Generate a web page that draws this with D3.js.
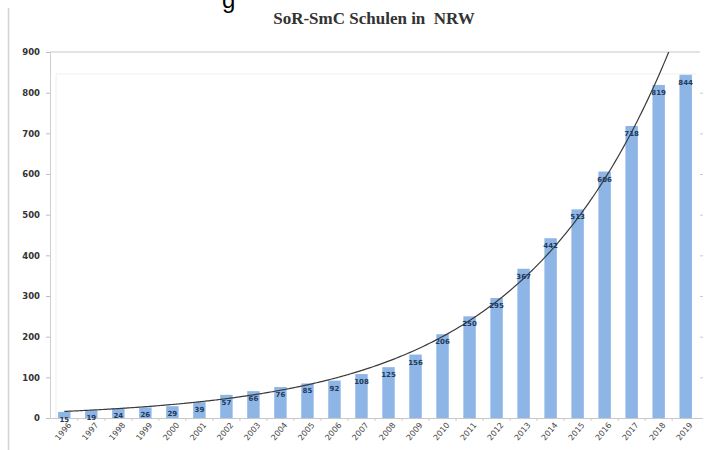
<!DOCTYPE html>
<html>
<head>
<meta charset="utf-8">
<script src="https://cdn.jsdelivr.net/npm/d3@7"></script>
<style>
  body { margin: 0; background: #fff; }
  svg { display: block; }
</style>
</head>
<body>
<svg id="chart" width="709" height="450"></svg>
<script>
// values
const years = ["1996","1997","1998","1999","2000","2001","2002","2003","2004","2005","2006","2007",
               "2008","2009","2010","2011","2012","2013","2014","2015","2016","2017","2018","2019"];
const schools = [15, 19, 24, 26, 29, 39, 57, 66, 76, 85, 92, 108,
                 125, 156, 206, 250, 295, 367, 442, 513, 606, 718, 819, 844];
const yTicks = [0, 100, 200, 300, 400, 500, 600, 700, 800, 900];
const title = "SoR-SmC Schulen in  NRW";

const data = years.map((y, i) => ({ year: y, value: schools[i] }));

const svg = d3.select("#chart");
const plotLeft = 50, plotRight = 700, plotTop = 52, plotBottom = 418;

const x = d3.scaleBand()
    .domain(years)
    .range([plotLeft, plotRight])
    .paddingInner(0.54)
    .paddingOuter(0.3);

const y = d3.scaleLinear()
    .domain([0, 900])
    .range([plotBottom, plotTop]);

// frame remnants of the screenshot
svg.append("line")
    .attr("x1", 8.5).attr("x2", 8.5)
    .attr("y1", 8).attr("y2", 450)
    .attr("stroke", "#d4d4d4").attr("stroke-width", 1.5);

svg.append("text")
    .attr("x", 222).attr("y", 8)
    .style("font-family", "Liberation Sans, Arial, sans-serif")
    .style("font-size", "24px")
    .attr("fill", "#000")
    .text("g");

// title
svg.append("text")
    .attr("x", 374).attr("y", 24)
    .attr("text-anchor", "middle")
    .style("font-family", "Liberation Serif, Times New Roman, serif")
    .style("font-weight", "bold")
    .style("font-size", "17px")
    .style("white-space", "pre")
    .attr("fill", "#333")
    .text(title);

// top gridline
svg.append("line")
    .attr("x1", plotLeft).attr("x2", plotRight)
    .attr("y1", y(900)).attr("y2", y(900))
    .attr("stroke", "#c8c8c8").attr("stroke-width", 1.2);

// faint inner plot box
svg.append("path")
    .attr("d", `M${plotLeft + 6},${plotBottom} V${plotTop + 22} H${plotRight - 4}`)
    .attr("fill", "none")
    .attr("stroke", "#f0f0f0").attr("stroke-width", 1);

// left axis
const yAxis = svg.append("g")
    .attr("transform", `translate(${plotLeft},0)`)
    .call(d3.axisLeft(y).tickValues(yTicks).tickSize(4).tickPadding(6));
yAxis.select(".domain").attr("stroke", "#cfcfcf");
yAxis.selectAll(".tick line").attr("stroke", "#bdbdbd");
yAxis.selectAll("text")
    .style("font-family", "DejaVu Sans, sans-serif")
    .style("font-weight", "bold")
    .style("font-size", "8.5px")
    .attr("fill", "#333");

// right axis, ticks only
const yAxisR = svg.append("g")
    .attr("transform", `translate(${plotRight},0)`)
    .call(d3.axisRight(y).tickValues(yTicks.slice(0, -1)).tickSize(3).tickFormat(""));
yAxisR.select(".domain").remove();
yAxisR.selectAll(".tick line").attr("stroke", "#cccccc");

// bars
svg.append("g")
    .selectAll("rect")
    .data(data)
    .enter()
    .append("rect")
    .attr("x", d => x(d.year))
    .attr("y", d => y(d.value))
    .attr("width", x.bandwidth())
    .attr("height", d => y(0) - y(d.value))
    .attr("fill", "#8db5e6");

// bottom axis
const xAxis = svg.append("g")
    .attr("transform", `translate(0,${plotBottom})`)
    .call(d3.axisBottom(x).tickSize(0).tickPadding(8));
xAxis.select(".domain").attr("stroke", "#c8c8c8").attr("stroke-width", 1.2);
xAxis.selectAll("text")
    .style("font-family", "DejaVu Sans, sans-serif")
    .style("font-size", "8px")
    .attr("fill", "#444")
    .attr("text-anchor", "end")
    .attr("dx", "-0.1em")
    .attr("dy", "0.3em")
    .attr("transform", "rotate(-50)");

// category separators on the x axis
svg.append("g")
    .selectAll("line")
    .data(years.slice(1))
    .enter()
    .append("line")
    .attr("x1", d => x(d) - x.step() * x.paddingInner() / 2)
    .attr("x2", d => x(d) - x.step() * x.paddingInner() / 2)
    .attr("y1", plotBottom).attr("y2", plotBottom + 3)
    .attr("stroke", "#cccccc");

// exponential trendline (least squares on ln values)
const n = schools.length;
const lnv = schools.map(v => Math.log(v));
const tMean = d3.mean(d3.range(n));
const lMean = d3.mean(lnv);
const b = d3.sum(d3.range(n), t => (t - tMean) * (lnv[t] - lMean)) /
          d3.sum(d3.range(n), t => (t - tMean) ** 2);
const a = Math.exp(lMean - b * tMean);

const xc = t => x(years[0]) + x.bandwidth() / 2 + t * x.step();
const trend = d3.range(0, n - 1 + 0.001, 0.1).map(t => [t, a * Math.exp(b * t)]);

svg.append("clipPath").attr("id", "plotclip")
    .append("rect")
    .attr("x", plotLeft).attr("y", plotTop)
    .attr("width", plotRight - plotLeft).attr("height", plotBottom - plotTop);

svg.append("path")
    .datum(trend)
    .attr("clip-path", "url(#plotclip)")
    .attr("fill", "none")
    .attr("stroke", "#3a3a3a")
    .attr("stroke-width", 1.2)
    .attr("d", d3.line().x(d => xc(d[0])).y(d => y(d[1])).curve(d3.curveMonotoneX));

// value labels
svg.append("g")
    .selectAll("text")
    .data(data)
    .enter()
    .append("text")
    .attr("x", d => x(d.year) + x.bandwidth() / 2)
    .attr("y", d => y(d.value) + 10)
    .attr("text-anchor", "middle")
    .style("font-family", "DejaVu Sans, sans-serif")
    .style("font-weight", "bold")
    .style("font-size", "7px")
    .attr("fill", "#1f3a5a")
    .text(d => d.value);
</script>
</body>
</html>
